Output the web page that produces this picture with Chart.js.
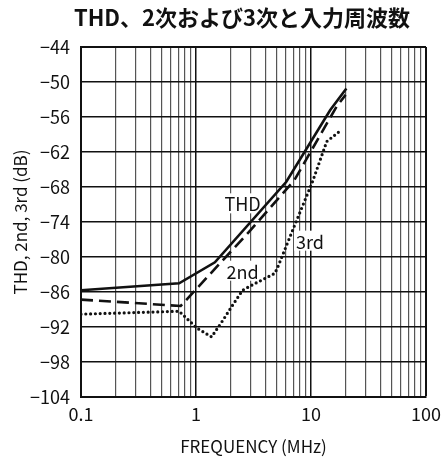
<!DOCTYPE html>
<html><head><meta charset="utf-8">
<script src="https://cdn.jsdelivr.net/npm/chart.js@4"></script>
<style>html,body{margin:0;padding:0;background:#fff}</style>
</head><body>
<canvas id="c" width="447" height="462"></canvas>
<script>
const titleText = 'THD、2次および3次と入力周波数';
const xAxisTitle = 'FREQUENCY (MHz)';
const yAxisTitle = 'THD, 2nd, 3rd (dB)';
const xTickValues = [0.1,0.2,0.3,0.4,0.5,0.6,0.7,0.8,0.9,1,2,3,4,5,6,7,8,9,10,20,30,40,50,60,70,80,90,100];
const xDecades = [0.1, 1, 10, 100];
const xDecadeLabels = ['0.1', '1', '10', '100'];
const yTickValues = [-104,-98,-92,-86,-80,-74,-68,-62,-56,-50,-44];
const yTickLabels = ['−104','−98','−92','−86','−80','−74','−68','−62','−56','−50','−44'];

const thdX = [0.1, 0.713, 1.46, 6.1, 14.7, 20.3];
const thdY = [-85.7, -84.5, -80.9, -67.1, -54.8, -51.1];
const secondX = [0.1, 0.736, 2.98, 7.18, 16.7, 20.0];
const secondY = [-87.3, -88.4, -75.4, -66.8, -54.2, -52.2];
const thirdX = [0.1, 0.713, 1.02, 1.366, 1.72, 2.09, 2.54, 3.08, 4.85, 5.2, 5.71, 6.73, 10.3, 13.7, 18.4];
const thirdY = [-89.8, -89.3, -92.2, -93.7, -90.8, -88.2, -85.7, -84.8, -82.8, -81.5, -79.5, -76.0, -67.1, -60.2, -58.2];

const curveLabels = ['THD', '2nd', '3rd'];
const curveLabelX = [2.54, 2.54, 9.8];
const curveLabelY = [-70.8, -82.35, -77.2];

const FONT = '"Noto Sans CJK JP", sans-serif';
const pts = (xs, ys) => xs.map((x, i) => ({x, y: ys[i]}));

const labelPlugin = {
  id: 'curveLabels',
  beforeDatasetsDraw(chart) {
    const {ctx, scales} = chart;
    ctx.save();
    ctx.font = '18px ' + FONT;
    ctx.textAlign = 'center';
    ctx.textBaseline = 'middle';
    curveLabels.forEach((t, i) => {
      const px = scales.x.getPixelForValue(curveLabelX[i]);
      const py = scales.y.getPixelForValue(curveLabelY[i]);
      const w = ctx.measureText(t).width + 4;
      ctx.fillStyle = '#fff';
      ctx.fillRect(px - w / 2, py - 10, w, 20);
      ctx.fillStyle = '#111';
      ctx.fillText(t, px, py + 1);
    });
    ctx.restore();
  }
};
const titlePlugin = {
  id: 'topTitle',
  afterDraw(chart) {
    const {ctx} = chart;
    ctx.save();
    ctx.font = 'bold 22px ' + FONT;
    ctx.fillStyle = '#111';
    ctx.textAlign = 'center';
    ctx.textBaseline = 'middle';
    ctx.fillText(titleText, 242, 18);
    ctx.restore();
  }
};

new Chart(document.getElementById('c'), {
  type: 'line',
  data: {
    datasets: [
      {data: pts(thdX, thdY), borderColor: '#111', borderWidth: 2.6, pointRadius: 0, tension: 0, fill: false},
      {data: pts(secondX, secondY), borderColor: '#111', borderWidth: 2.6, borderDash: [12, 6], pointRadius: 0, tension: 0, fill: false},
      {data: pts(thirdX, thirdY), borderColor: '#111', borderWidth: 3.2, borderDash: [0, 4.8], borderCapStyle: 'round', pointRadius: 0, tension: 0, fill: false}
    ]
  },
  options: {
    responsive: false,
    animation: false,
    devicePixelRatio: 1,
    layout: {padding: {top: 47, right: 12, bottom: 0, left: 0}},
    plugins: {legend: {display: false}, tooltip: {enabled: false}, title: {display: false}},
    scales: {
      x: {
        type: 'logarithmic', min: 0.1, max: 100,
        afterBuildTicks: s => { s.ticks = xTickValues.map(v => ({value: v})); },
        afterFit: s => { s.height = 65; },
        ticks: {
          autoSkip: false, maxRotation: 0, minRotation: 0, padding: 6,
          color: '#111', font: {family: FONT, size: 18},
          callback: v => { const i = xDecades.indexOf(v); return i >= 0 ? xDecadeLabels[i] : ''; }
        },
        grid: {
          drawTicks: false,
          color: c => xDecades.includes(c.tick && c.tick.value) ? '#111' : '#555',
          lineWidth: c => (c.tick && (c.tick.value === 100)) ? 2 : (xDecades.includes(c.tick && c.tick.value) ? 1.5 : 1.2)
        },
        border: {color: '#111', width: 2},
        title: {display: true, text: xAxisTitle, color: '#111', font: {family: FONT, size: 17}, padding: {top: 0, bottom: 5}}
      },
      y: {
        min: -104, max: -44,
        afterBuildTicks: s => { s.ticks = yTickValues.map(v => ({value: v})); },
        afterFit: s => { s.width = 81; },
        ticks: {
          padding: 11, color: '#111', font: {family: FONT, size: 18},
          callback: v => { const i = yTickValues.indexOf(v); return i >= 0 ? yTickLabels[i] : ''; }
        },
        grid: {
          drawTicks: false, color: '#111',
          lineWidth: c => (c.tick && c.tick.value === -44) ? 2 : 1.5
        },
        border: {color: '#111', width: 2},
        title: {display: true, text: yAxisTitle, color: '#111', font: {family: FONT, size: 17}, padding: {top: 10, bottom: 0}}
      }
    }
  },
  plugins: [labelPlugin, titlePlugin]
});
</script>
</body></html>
